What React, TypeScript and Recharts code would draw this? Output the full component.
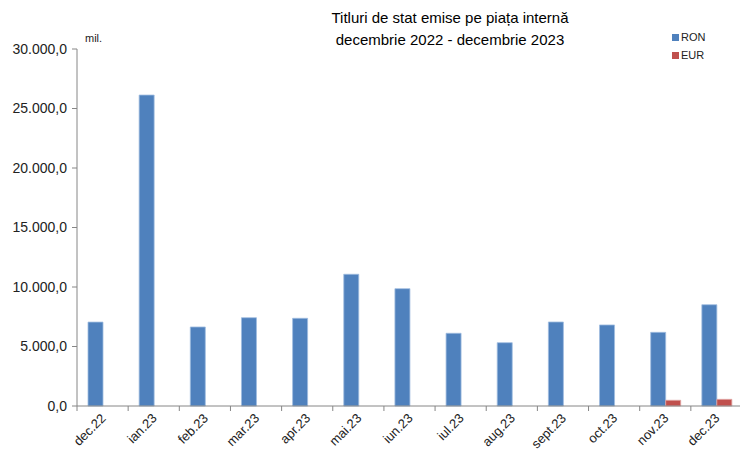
import React from 'react';
import { BarChart, Bar, XAxis, YAxis } from 'recharts';

const months = ['dec.22', 'ian.23', 'feb.23', 'mar.23', 'apr.23', 'mai.23', 'iun.23', 'iul.23', 'aug.23', 'sept.23', 'oct.23', 'nov.23', 'dec.23'];
const ron = [7050, 26130, 6640, 7420, 7370, 11070, 9860, 6110, 5320, 7060, 6810, 6190, 8510];
const eur = [0, 0, 0, 0, 0, 0, 0, 0, 0, 0, 0, 480, 560];
const yTicks = [0, 5000, 10000, 15000, 20000, 25000, 30000];

const data = months.map((m, i) => ({ name: m, RON: ron[i], EUR: eur[i] }));

const font = '"Liberation Sans", Arial, sans-serif';
const BAND = 665 / 13;

const fmt = (v: number) => {
  const s = Math.round(v).toString().replace(/\B(?=(\d{3})+(?!\d))/g, '.');
  return s + ',0';
};

const MonthTick = (props: any) => {
  const { x, y, payload } = props;
  const bx = x - BAND / 2;
  const px = x + 4;
  const py = y + 13;
  return (
    <g>
      <line x1={bx} y1={y} x2={bx} y2={y + 5} stroke="#868686" />
      <text
        x={px}
        y={py}
        textAnchor="end"
        fontSize={13}
        fontFamily={font}
        fill="#222"
        transform={`rotate(-45, ${px}, ${py})`}
      >
        {payload.value}
      </text>
    </g>
  );
};

export default function App() {
  return (
    <div style={{ position: 'absolute', left: 0, top: 0, width: 740, height: 452, overflow: 'hidden', background: '#fff' }}>
      <div style={{ position: 'absolute', left: 155, width: 590, top: 7, textAlign: 'center', fontFamily: font, fontSize: 15, lineHeight: '22px', color: '#000' }}>
        Titluri de stat emise pe piața internă
        <br />
        decembrie 2022 - decembrie 2023
      </div>
      <div style={{ position: 'absolute', left: 85, top: 32, fontFamily: font, fontSize: 11, color: '#222' }}>mil.</div>
      <div style={{ position: 'absolute', left: 672, top: 28, fontFamily: font, fontSize: 11, color: '#222', lineHeight: '18px' }}>
        <div><span style={{ display: 'inline-block', width: 7, height: 7, background: '#4F81BD', marginRight: 2 }} />RON</div>
        <div><span style={{ display: 'inline-block', width: 7, height: 7, background: '#C0504D', marginRight: 2 }} />EUR</div>
      </div>
      <BarChart
        width={742}
        height={452}
        data={data}
        margin={{ top: 49, right: 0, bottom: 0, left: 0 }}
        barCategoryGap={11}
        barGap={0}
      >
        <XAxis
          dataKey="name"
          height={46}
          tickSize={0}
          tickMargin={0}
          tickLine={false}
          interval={0}
          axisLine={{ stroke: '#868686' }}
          tick={<MonthTick />}
        />
        <YAxis
          width={77}
          domain={[0, 30000]}
          ticks={yTicks}
          tickFormatter={fmt}
          tickSize={5}
          tickMargin={5}
          interval={0}
          axisLine={{ stroke: '#868686' }}
          tickLine={{ stroke: '#868686' }}
          tick={{ fontSize: 14, fontFamily: font, fill: '#222' }}
        />
        <Bar dataKey="RON" fill="#4F81BD" stroke="#9FBCE0" strokeWidth={0.8} isAnimationActive={false} />
        <Bar dataKey="EUR" fill="#C0504D" stroke="#E0A3A1" strokeWidth={0.8} isAnimationActive={false} />
      </BarChart>
    </div>
  );
}
